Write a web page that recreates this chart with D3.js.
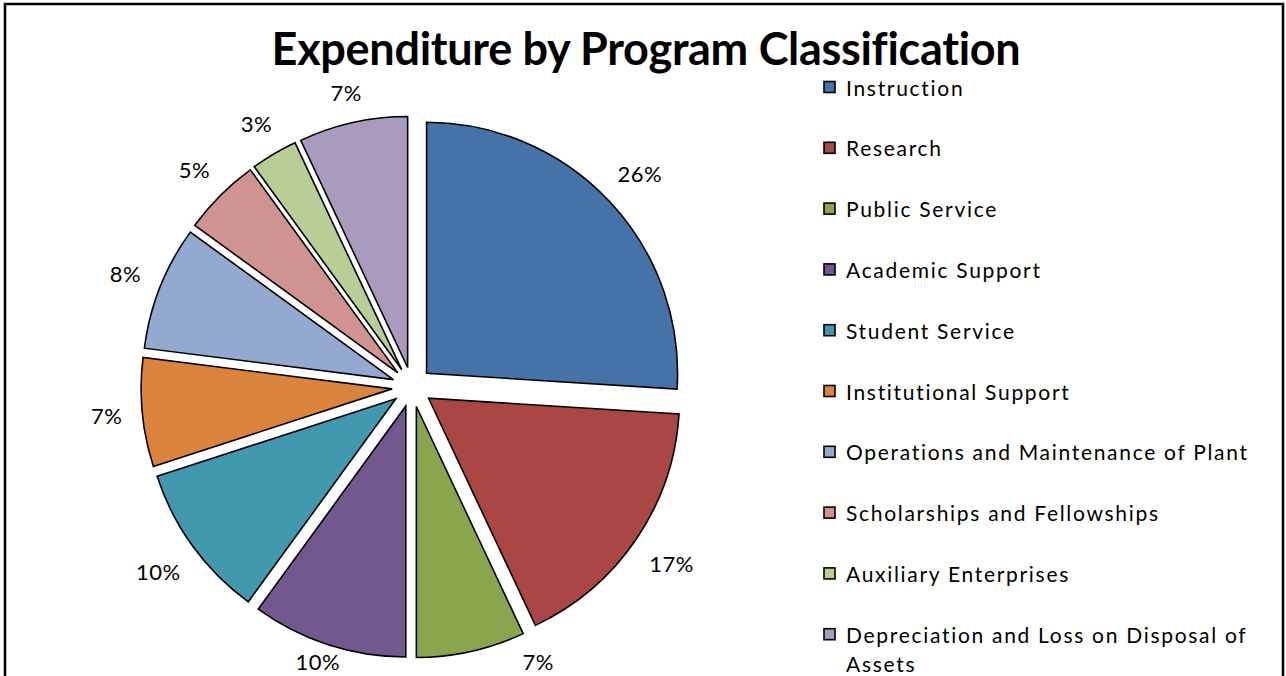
<!DOCTYPE html>
<html>
<head>
<meta charset="utf-8">
<script src="https://cdn.jsdelivr.net/npm/d3@7"></script>
<style>
  html, body { margin: 0; padding: 0; background: #fff; }
  svg { display: block; }
</style>
</head>
<body>
<svg id="chart" width="1286" height="676"></svg>
<script>
const categories = [
  "Instruction",
  "Research",
  "Public Service",
  "Academic Support",
  "Student Service",
  "Institutional Support",
  "Operations and Maintenance of Plant",
  "Scholarships and Fellowships",
  "Auxiliary Enterprises",
  "Depreciation and Loss on Disposal of Assets"
];
const values = [26, 17, 7, 10, 10, 7, 8, 5, 3, 7];
const colors = ["#4572A7", "#AA4643", "#89A54E", "#71588F", "#4198AF",
                "#DB843D", "#93A9CF", "#D19392", "#B9CD96", "#A99BBD"];
const legendLines = [
  ["Instruction"], ["Research"], ["Public Service"], ["Academic Support"],
  ["Student Service"], ["Institutional Support"], ["Operations and Maintenance of Plant"],
  ["Scholarships and Fellowships"], ["Auxiliary Enterprises"],
  ["Depreciation and Loss on Disposal of", "Assets"]
];
const title = "Expenditure by Program Classification";

const FONT = "Lato, 'Open Sans', sans-serif";
const svg = d3.select("#chart");

// outer border
svg.append("rect")
  .attr("x", 5).attr("y", 4).attr("width", 1278).attr("height", 700)
  .attr("fill", "#fff").attr("stroke", "#000").attr("stroke-width", 2.5);

// title
svg.append("text")
  .attr("x", 646).attr("y", 48)
  .attr("text-anchor", "middle").attr("dominant-baseline", "central")
  .style("font-family", FONT).style("font-weight", 700)
  .style("font-size", "45px").style("letter-spacing", "-0.3px")
  .text(title);

// pie
const cx = 412, cy = 387, R = 251, explode = 20;
const total = d3.sum(values);
const pie = d3.pie().sort(null).value(d => d).startAngle(0).endAngle(2 * Math.PI);
const arcs = pie(values);
const arc = d3.arc().innerRadius(0).outerRadius(R);

const g = svg.append("g").attr("transform", `translate(${cx},${cy})`);
arcs.forEach((a, i) => {
  const mid = (a.startAngle + a.endAngle) / 2;
  const dx = Math.sin(mid) * explode, dy = -Math.cos(mid) * explode;
  g.append("path")
    .attr("d", arc(a))
    .attr("transform", `translate(${dx},${dy})`)
    .attr("fill", colors[i])
    .attr("stroke", "#000").attr("stroke-width", 1.6)
    .attr("stroke-linejoin", "miter");
});

// percentage labels (outside, kept inside the plot area)
const fmt = d3.format(".0%");
const maxY = 661 - cy;
arcs.forEach((a, i) => {
  const mid = (a.startAngle + a.endAngle) / 2;
  const ux = Math.sin(mid), uy = -Math.cos(mid);
  const ax = ux * explode, ay = uy * explode;
  const t = g.append("text")
    .attr("text-anchor", "middle").attr("dominant-baseline", "central")
    .style("font-family", FONT).style("font-size", "22px")
    .style("letter-spacing", "0.5px")
    .text(fmt(values[i] / total));
  const w = t.node().getComputedTextLength();
  const hw = w / 2 + 2, hh = 10;
  const rr = explode + R + 17 + hw * Math.abs(ux) + hh * Math.abs(uy);
  let x = ux * rr, y = uy * rr;
  if (y > maxY) {
    y = maxY;
    const corners = [[x - hw, y - hh], [x + hw, y - hh]];
    const overlap = corners.some(([px, py]) => Math.hypot(px - ax, py - ay) < R);
    if (overlap) {
      let th = Math.acos(-maxY / rr);
      if (mid > Math.PI) th = 2 * Math.PI - th;
      x = Math.sin(th) * rr;
    }
  }
  t.attr("x", x).attr("y", y);
});

// legend
const lx = 824, ly0 = 87, lstep = 60.8;
legendLines.forEach((lines, i) => {
  const y = ly0 + i * lstep;
  svg.append("rect")
    .attr("x", lx).attr("y", y - 5.5).attr("width", 11).attr("height", 11)
    .attr("fill", colors[i]).attr("stroke", "#000").attr("stroke-width", 1.6);
  lines.forEach((ln, j) => {
    svg.append("text")
      .attr("x", 846).attr("y", y + j * 29)
      .attr("dominant-baseline", "central")
      .style("font-family", FONT).style("font-size", "21px")
      .style("letter-spacing", "1.7px")
      .text(ln);
  });
});
</script>
</body>
</html>
